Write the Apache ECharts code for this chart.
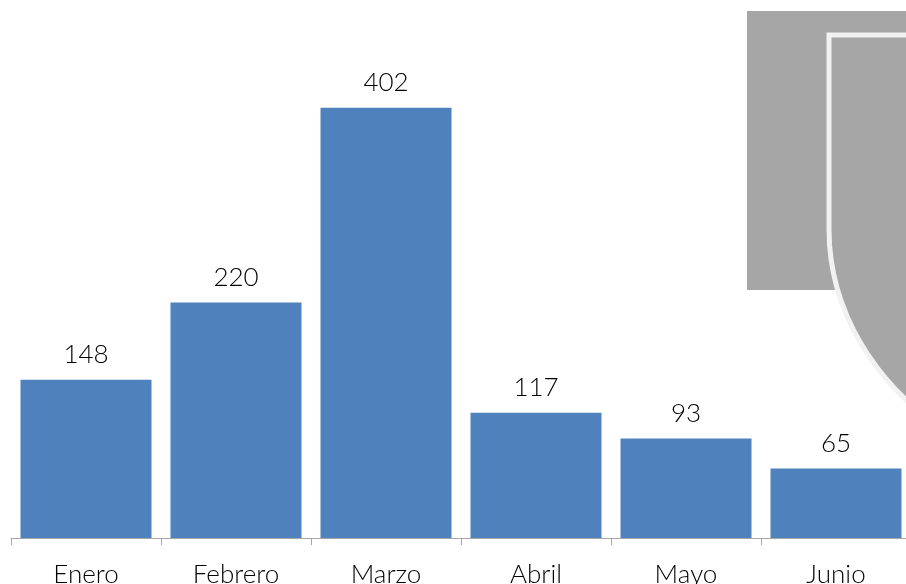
<!DOCTYPE html>
<html>
<head>
<meta charset="utf-8">
<script src="https://cdn.jsdelivr.net/npm/echarts@6/dist/echarts.min.js"></script>
<style>
  html, body { margin: 0; padding: 0; background: #fff; }
  #chart { width: 906px; height: 584px; }
</style>
</head>
<body>
<div id="chart"></div>
<script>
const months = ["Enero", "Febrero", "Marzo", "Abril", "Mayo", "Junio"];
const values = [148, 220, 402, 117, 93, 65];

const chart = echarts.init(document.getElementById("chart"));
const font = "Lato, 'Open Sans', sans-serif";

// shield outline: straight top/left edge, then a curve down to the right
const shield = [[1000, 35], [829, 35], [829, 230]];
for (let i = 1; i <= 20; i++) {
  const t = i / 20, u = 1 - t;
  const x = u * u * u * 829 + 3 * u * u * t * 829 + 3 * u * t * t * 900 + t * t * t * 1000;
  const y = u * u * u * 230 + 3 * u * u * t * 330 + 3 * u * t * t * 420 + t * t * t * 460;
  shield.push([x, y]);
}

chart.setOption({
  animation: false,
  backgroundColor: "#ffffff",
  graphic: [
    {
      type: "rect",
      z: 0,
      shape: { x: 747, y: 11, width: 170, height: 279 },
      style: { fill: "#a6a6a6" },
    },
    {
      type: "polygon",
      z: 1,
      shape: { points: shield },
      style: { fill: "#a6a6a6", stroke: "#f2f2f2", lineWidth: 5 },
    },
  ],
  grid: {
    left: 11, top: 3, width: 900, height: 535,
    containLabel: false, outerBoundsMode: "none",
  },
  xAxis: {
    type: "category",
    data: months,
    axisLine: { show: true, lineStyle: { color: "#a6a6a6", width: 1 } },
    axisTick: { show: true, length: 7, lineStyle: { color: "#a6a6a6", width: 1 } },
    axisLabel: { color: "#000", fontSize: 26, fontWeight: 300, fontFamily: font, margin: 24 },
  },
  yAxis: {
    type: "value",
    min: 0,
    max: 500,
    show: false,
    splitLine: { show: false },
  },
  series: [
    {
      type: "bar",
      data: values,
      barWidth: 131,
      z: 3,
      itemStyle: { color: "#4f81bd" },
      label: {
        show: true,
        position: "top",
        distance: 12,
        color: "#000",
        fontSize: 26,
        fontWeight: 300,
        fontFamily: font,
      },
    },
  ],
});
</script>
</body>
</html>
